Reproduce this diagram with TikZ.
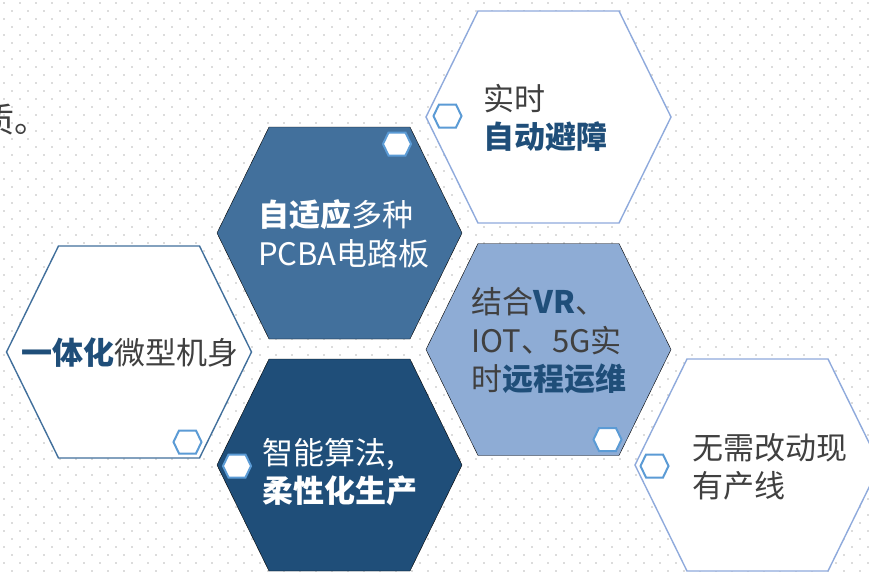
\documentclass[tikz,border=0pt]{standalone}
\usepackage{fontspec}
\setmainfont{Noto Sans CJK SC}
\usepackage{xcolor}
\usepackage{tikz}
\usetikzlibrary{positioning}

\definecolor{midblue}{HTML}{42709C}
\definecolor{navy}{HTML}{1F4E79}
\definecolor{paleblue}{HTML}{8EACD5}
\definecolor{edgeblue}{HTML}{8FAADC}
\definecolor{ringblue}{HTML}{5B9BD5}
\definecolor{txtgray}{HTML}{404040}
\definecolor{dotgray}{HTML}{DCDCDC}

\newcommand{\hexa}[6]{\draw[#1] ({#2-#4},#3) -- ({#2-#5},{#3-#6}) -- ({#2+#5},{#3-#6}) -- ({#2+#4},#3) -- ({#2+#5},{#3+#6}) -- ({#2-#5},{#3+#6}) -- cycle;}
\newcommand{\bighex}[3]{\hexa{#1}{#2}{#3}{122.5}{70.5}{106}}
\newcommand{\ringhex}[2]{\hexa{ring}{#1}{#2}{14}{8.5}{11.5}}
\newcommand{\hlb}[1]{\textbf{\color{navy}#1}}

\tikzset{
	ring/.style={fill=white, draw=ringblue, line width=2pt},
	lbl/.style={inner sep=0pt, align=left, font=\fontsize{31}{38.5}\selectfont, text=txtgray},
}

\begin{document}
\begin{tikzpicture}[x=1pt, y=-1pt]
	\useasboundingbox (0,0) rectangle (869,571);
	\clip (0,0) rectangle (869,571);
	\fill[white] (0,0) rectangle (869,571);
	\foreach \r in {0,...,71}{
		\pgfmathsetmacro\xs{3+8*mod(\r,2)}
		\draw[dotgray, line width=2pt, dash pattern=on 2pt off 14pt] (\xs,{2.7+8*\r}) -- (869,{2.7+8*\r});
	}
	\node[lbl, anchor=west, font=\fontsize{34}{40}\selectfont] (zhi) at (-20,120) {质。};
	\bighex{fill=midblue}{339.5}{233}
	\bighex{fill=white, draw=edgeblue, line width=1.4pt}{548.5}{117}
	\bighex{fill=white, draw=midblue, line width=1.4pt}{129}{352}
	\bighex{fill=navy}{339.5}{465}
	\bighex{fill=paleblue}{548.5}{349.5}
	\bighex{fill=white, draw=edgeblue, line width=1.4pt}{757.5}{465}
	\ringhex{397}{144}
	\ringhex{447.5}{116}
	\ringhex{187.5}{442}
	\ringhex{237}{466}
	\ringhex{607.5}{439.5}
	\ringhex{654.5}{466}
	\node[lbl, anchor=west, text=white] (pcba) at (258,234) {\textbf{自适应}多种\\PCBA电路板};
	\node[lbl, anchor=west] (obst) at (483,118) {实时\\\hlb{自动避障}};
	\node[lbl] (body) at (130,353) {\hlb{一体化}微型机身};
	\node[lbl, anchor=west, text=white] (algo) at (262,472) {智能算法,\\\textbf{柔性化生产}};
	\node[lbl, anchor=west] (remote) at (471,341) {结合\hlb{VR}、\\IOT、5G实\\时\hlb{远程运维}};
	\node[lbl, anchor=west] (line) at (692,467) {无需改动现\\有产线};
\end{tikzpicture}
\end{document}
